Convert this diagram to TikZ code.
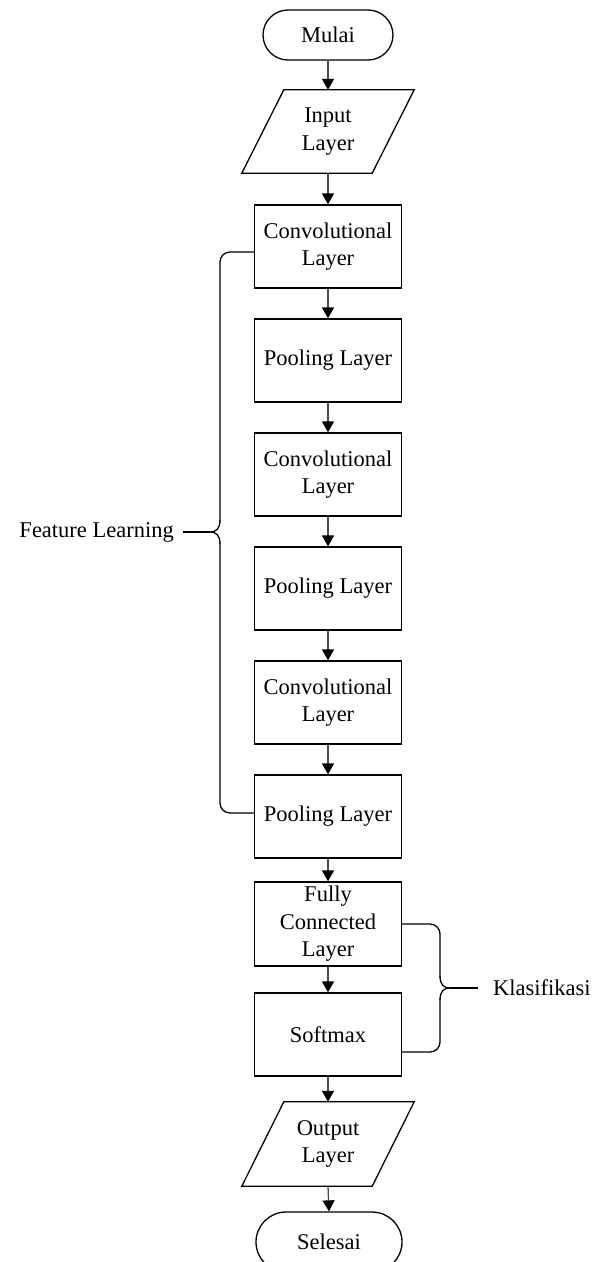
\documentclass[tikz,border=0pt]{standalone}
\usepackage{fontspec}
\setmainfont{Liberation Serif}
\usetikzlibrary{shapes.misc,arrows.meta}
\begin{document}
\begin{tikzpicture}[x=1pt,y=-1pt,
 txt/.style={font=\fontsize{22.5}{27.5}\selectfont, align=center, text=black},
 term/.style={txt, rounded rectangle, draw, line width=1.3pt, minimum height=50pt, minimum width=130pt, inner sep=0pt},
 proc/.style={txt, rectangle, draw, line width=1.3pt, minimum width=147pt, minimum height=83pt, inner sep=0pt},
 io/.style={txt, rectangle, minimum width=130pt, minimum height=83pt, inner sep=0pt},
 para/.style={line width=1.3pt, line join=miter},
 arr/.style={draw=black!70, line width=1.3pt, -{Triangle[width=12pt,length=11pt,black]}},
 brace/.style={line width=1.3pt, black}
]
\useasboundingbox (0,0) rectangle (597,1262);
\clip (0,0) rectangle (597,1262);
\node[term] (start) at (328,35) {Mulai};
\node[io] (in) at (328,131.5) {Input\\Layer};
\draw[para] ([xshift=21pt]in.north west) -- ([xshift=21pt]in.north east) -- ([xshift=-21pt]in.south east) -- ([xshift=-21pt]in.south west) -- cycle;
\node[proc] (c1) at (328,246.5) {Convolutional\\Layer};
\node[proc] (p1) at (328,360.5) {Pooling Layer};
\node[proc] (c2) at (328,474.5) {Convolutional\\Layer};
\node[proc] (p2) at (328,588.5) {Pooling Layer};
\node[proc] (c3) at (328,702.5) {Convolutional\\Layer};
\node[proc] (p3) at (328,816.5) {Pooling Layer};
\node[proc, minimum height=84pt] (fc) at (328,924) {Fully\\Connected\\Layer};
\node[proc] (sm) at (328,1034.5) {Softmax};
\node[io, minimum height=84pt] (out) at (328,1144) {Output\\Layer};
\draw[para] ([xshift=21pt]out.north west) -- ([xshift=21pt]out.north east) -- ([xshift=-21pt]out.south east) -- ([xshift=-21pt]out.south west) -- cycle;
\node[term, minimum width=146pt, minimum height=60pt] (end) at (329,1242) {Selesai};
% arrows
\draw[arr] (start.south) -- (in.north);
\draw[arr] (in.south) -- (c1.north);
\draw[arr] (c1) -- (p1);
\draw[arr] (p1) -- (c2);
\draw[arr] (c2) -- (p2);
\draw[arr] (p2) -- (c3);
\draw[arr] (c3) -- (p3);
\draw[arr] (p3) -- (fc);
\draw[arr] (fc) -- (sm);
\draw[arr] (sm.south) -- (out.north);
\draw[arr] (out.south) -- (end.north);
% left brace
\coordinate (bl) at (210,532);
\draw[brace, rounded corners=10pt] ([yshift=-5.5pt]c1.west) -- (220,252) -- (220,521);
\draw[brace] (220,520) .. controls (220,529) and (216,532) .. (bl) .. controls (216,532) and (220,535) .. (220,544);
\draw[brace, rounded corners=10pt] (220,543) -- (220,813) -- ([yshift=3.5pt]p3.west);
\node[txt, anchor=east, inner xsep=9pt, inner ysep=0pt] (fl) at (183,532) {Feature Learning};
\draw[brace] (fl.east) -- (bl);
% right brace
\coordinate (br) at (450,988);
\draw[brace, rounded corners=10pt] (fc.east) -- (440,924) -- (440,977);
\draw[brace] (440,976) .. controls (440,985) and (444,988) .. (br) .. controls (444,988) and (440,991) .. (440,1000);
\draw[brace, rounded corners=10pt] (440,999) -- (440,1052) -- ([yshift=-17.5pt]sm.east);
\node[txt, anchor=west, inner xsep=15pt, inner ysep=0pt] (kl) at (478,988) {Klasifikasi};
\draw[brace] (br) -- (kl.west);
\end{tikzpicture}
\end{document}
